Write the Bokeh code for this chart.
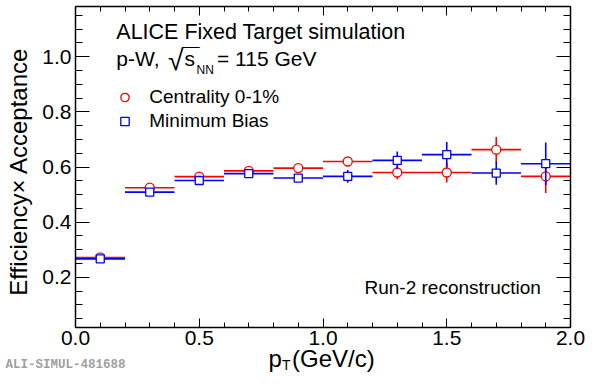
import numpy as np
from bokeh.plotting import figure
from bokeh.models import (LinearAxis, SingleIntervalTicker, NumeralTickFormatter, Label,
                          Legend, LegendItem, ColumnDataSource, Range1d)
from bokeh.embed import file_html
from bokeh.resources import INLINE

# ---------------- data ----------------
bin_edges = [0.0, 0.2, 0.4, 0.6, 0.8, 1.0, 1.2, 1.4, 1.6, 1.8, 2.0]
central_eff = [0.272, 0.525, 0.565, 0.586, 0.596, 0.620, 0.580, 0.580, 0.663, 0.566]
central_err = [0.005, 0.008, 0.008, 0.008, 0.010, 0.012, 0.024, 0.036, 0.046, 0.060]
minbias_eff = [0.267, 0.509, 0.551, 0.576, 0.560, 0.566, 0.624, 0.645, 0.578, 0.612]
minbias_err = [0.005, 0.008, 0.008, 0.008, 0.012, 0.023, 0.032, 0.046, 0.042, 0.077]
series_labels = ["Centrality 0-1%", "Minimum Bias"]
x_axis_limits = (0.0, 2.0)
y_axis_limits = (0.018, 1.182)

edges = np.array(bin_edges)
lo, hi = edges[:-1], edges[1:]
centers = 0.5 * (lo + hi)

FONT = "Liberation Sans"
W, H = 585, 372
# pixel position of the plot box inside the canvas
PL, PR, PT, PB = 75, 570, 6, 327

X0, X1 = x_axis_limits
Y0, Y1 = y_axis_limits
sx = (PR - PL) / (X1 - X0)
sy = (PB - PT) / (Y1 - Y0)
x_range = Range1d(X0 - PL / sx, X1 + (W - PR) / sx)
y_range = Range1d(Y0 - (H - PB) / sy, Y1 + PT / sy)

p = figure(width=W, height=H, x_range=x_range, y_range=y_range,
           output_backend="svg", toolbar_location=None,
           x_axis_type=None, y_axis_type=None,
           min_border=0, min_border_left=0, min_border_right=0,
           min_border_top=0, min_border_bottom=0)
p.outline_line_color = None
p.background_fill_color = "white"
p.border_fill_color = "white"


def make_axis(interval, minor, tick_major, tick_minor, labels, loc, bounds, standoff):
    ax = LinearAxis(ticker=SingleIntervalTicker(interval=interval, num_minor_ticks=minor),
                    formatter=NumeralTickFormatter(format="0.0"),
                    fixed_location=loc, bounds=bounds,
                    axis_line_color="black", axis_line_width=1.5,
                    major_tick_in=tick_major, major_tick_out=0,
                    minor_tick_in=tick_minor, minor_tick_out=0,
                    major_tick_line_color="black", minor_tick_line_color="black",
                    major_tick_line_width=1, minor_tick_line_width=1,
                    major_label_text_font=FONT, major_label_text_font_size="21px",
                    major_label_standoff=standoff)
    ax.major_label_text_color = "black" if labels else None
    return ax

p.add_layout(make_axis(0.5, 5, 9, 5, True, Y0, (X0, X1), 3), "below")
p.add_layout(make_axis(0.5, 5, 9, 5, False, Y1, (X0, X1), 0), "above")
p.add_layout(make_axis(0.2, 4, 14, 7, True, X0, (Y0, Y1), 4), "left")
p.add_layout(make_axis(0.2, 4, 14, 7, False, X1, (Y0, Y1), 0), "right")


def draw_series(vals, errs, color, marker, size):
    v = np.array(vals)
    e = np.array(errs)
    src = ColumnDataSource(dict(x=centers, lo=lo, hi=hi, y=v, ylo=v - e, yhi=v + e))
    p.segment(x0="lo", y0="y", x1="hi", y1="y", source=src, line_color=color, line_width=1.6)
    p.segment(x0="x", y0="ylo", x1="x", y1="yhi", source=src, line_color=color, line_width=1.6)
    return p.scatter(x="x", y="y", source=src, marker=marker, size=size,
                     line_color=color, fill_color="white", line_width=1.3)

r_red = draw_series(central_eff, central_err, "#ff0000", "circle", 9)
r_blue = draw_series(minbias_eff, minbias_err, "#0000ff", "square", 8)

legend = Legend(items=[LegendItem(label=series_labels[0], renderers=[r_red]),
                       LegendItem(label=series_labels[1], renderers=[r_blue])],
                location=(114.3, 239.3), border_line_color=None, background_fill_alpha=0,
                padding=0, margin=0, spacing=0, glyph_width=21, glyph_height=24,
                label_height=24, label_standoff=14, label_text_font=FONT,
                label_text_font_size="19px", label_text_color="black")
p.add_layout(legend)

# (ascent - (ascent+descent)/2) in em, for placing a text by its baseline
CENTER_TO_BASE = {FONT: 0.3465, "Liberation Mono": 0.2665}


def lab(text, x, base, size, font=FONT, vertical=False, color="black", style="normal",
        align="left"):
    # x: pixels from the left; base: baseline, pixels from the top of the canvas
    px = float(size.replace("px", ""))
    off = CENTER_TO_BASE[font] * px
    if vertical:
        lx, ly, angle = base - off, x, np.pi / 2
    else:
        lx, ly, angle = x, H - base + off, 0.0
    p.add_layout(Label(x=lx, y=ly, x_units="screen", y_units="screen", text=text,
                       text_font=font, text_font_size=size, text_color=color,
                       text_font_style=style, angle=angle, text_align=align,
                       text_baseline="middle"))

lab("ALICE Fixed Target simulation", 115.8, 39, "21.5px")
lab("p-W,", 115.8, 65, "21px")
lab("\u221a", 167.5, 70, "28px")
lab("\u00af\u00af", 181.5, 60, "16px")
lab("s", 184, 65, "21px")
lab("NN", 196, 73.3, "12px")
lab("= 115 GeV", 216.5, 65, "21px")
lab("Run-2 reconstruction", 364, 294, "19px")
lab("Efficiency\u00d7 Acceptance", H - 171, 26, "24px", vertical=True, align="center")
lab("p", 268, 366.5, "24px")
lab("T", 281.5, 369, "14px")
lab("(GeV/c)", 291.5, 366.5, "24px")
lab("ALI-SIMUL-481688", 5, 368, "12.5px", font="Liberation Mono", color="#a0a0a0", style="bold")

open("out.html", "w").write(file_html(p, INLINE))
